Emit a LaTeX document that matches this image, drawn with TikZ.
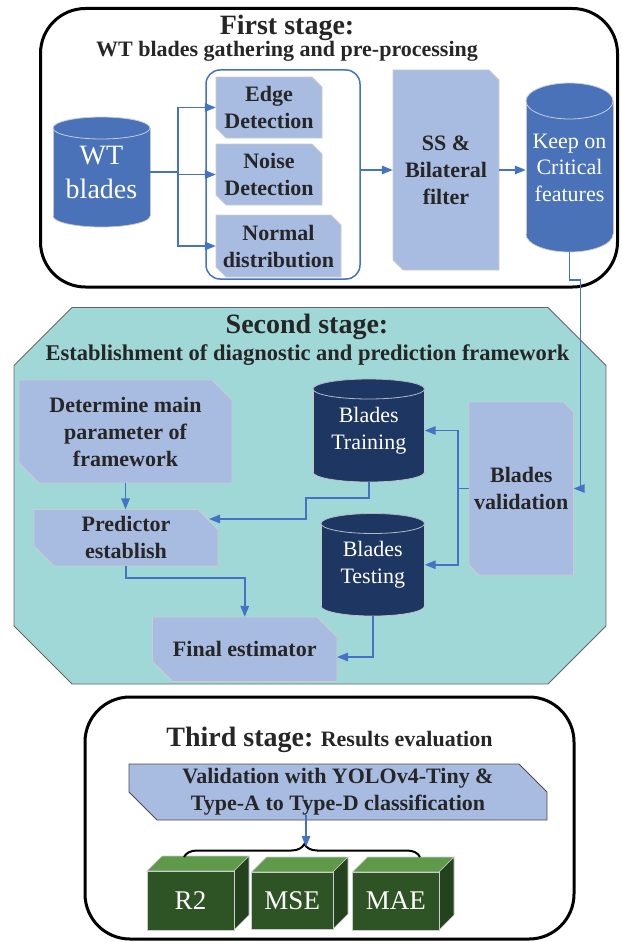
\documentclass[tikz,border=0pt]{standalone}
\usepackage{fontspec}
\setmainfont{Liberation Serif}
\usetikzlibrary{arrows.meta,decorations.pathreplacing}
\definecolor{lbox}{HTML}{A8BCE2}
\definecolor{cylblue}{HTML}{4A72B8}
\definecolor{navy}{HTML}{1E3762}
\definecolor{tealbg}{HTML}{A0D8D8}
\definecolor{arrblue}{HTML}{4472C4}
\definecolor{gfront}{HTML}{2E5426}
\definecolor{gtop}{HTML}{5E9A4A}
\definecolor{gside}{HTML}{24421D}
\definecolor{txt}{HTML}{262626}
\tikzset{
  boxst/.style={fill=lbox, draw=gray!40, line width=0.8pt},
  btext/.style={text=txt, font=\fontsize{22}{27}\selectfont\bfseries, align=center},
  wtext/.style={text=white, font=\fontsize{22}{26.5}\selectfont, align=center},
  ln/.style={draw=arrblue, line width=1.5pt},
  arr/.style={ln, -{Triangle[length=11pt,width=8.5pt]}},
  cylline/.style={draw=gray!45, line width=0.7pt},
  cubeline/.style={draw=gray!40, line width=0.6pt}
}
\newcommand\chbox[8]{%
  \filldraw[boxst] (#2,#3) -- ({#4-#6},#3) -- (#4,{#3+#6}) -- (#4,#5) -- ({#2+#6},#5) -- (#2,{#5-#6}) -- cycle;
  \node[#7, minimum width={#4-#2}, minimum height={#5-#3}, inner sep=0pt] (#1) at ({(#2+#4)/2},{(#3+#5)/2}) {#8};}
\newcommand\cylinder[9]{%
  \pgfmathsetmacro\cylcx{(#2+#4)/2}\pgfmathsetmacro\cylrx{(#4-#2)/2}
  \fill[#7, cylline] (\cylcx,{#5-#6}) ellipse [x radius=\cylrx, y radius=#6];
  \fill[#7] (#2,{#3+#6}) rectangle (#4,{#5-#6});
  \draw[cylline] (#2,{#3+#6}) -- (#2,{#5-#6}) (#4,{#3+#6}) -- (#4,{#5-#6});
  \fill[#7, draw=white!65!#7, line width=0.8pt] (\cylcx,{#3+#6}) ellipse [x radius=\cylrx, y radius=#6];
  \node[#8, minimum width={#4-#2}, minimum height={#5-#3}, inner sep=0pt] (#1) at (\cylcx,{(#3+#5)/2}) {#9};}
\newcommand\cube[7]{%
  \filldraw[fill=gtop, cubeline] (#2,#3) -- ({#2+#6},{#3-#6}) -- ({#4+#6},{#3-#6}) -- (#4,#3) -- cycle;
  \filldraw[fill=gside, cubeline] (#4,#3) -- ({#4+#6},{#3-#6}) -- ({#4+#6},{#5-#6}) -- (#4,#5) -- cycle;
  \filldraw[fill=gfront, cubeline] (#2,#3) rectangle (#4,#5);
  \node[text=white, font=\fontsize{27}{30}\selectfont, minimum width={#4-#2}, minimum height={#5-#3}, inner sep=0pt] (#1) at ({(#2+#4)/2},{(#3+#5)/2}) {#7};}
\begin{document}
\begin{tikzpicture}[x=1pt, y=-1pt]
\useasboundingbox (0,0) rectangle (621,942);
% ---------- Stage 1 ----------
\draw[line width=3pt, rounded corners=45] (40.5,8.5) rectangle (617.5,287);
\node[anchor=base, text=txt, font=\fontsize{28}{30}\selectfont\bfseries] (t1) at (287,35) {First stage:};
\node[anchor=base, text=txt, font=\fontsize{22}{24}\selectfont\bfseries] (s1) at (287,56.5) {WT blades gathering and pre-processing};
\cylinder{wt}{53}{117}{150}{227}{11}{cylblue}{wtext, font=\fontsize{28}{34}\selectfont}{WT\\blades}
\node[draw=arrblue, line width=1.5pt, rounded corners=14, minimum width=154, minimum height=209, inner sep=0pt] (grp) at (283,174.5) {};
\chbox{edge}{216}{77}{322}{138}{10}{btext}{Edge\\Detection}
\chbox{noise}{216}{144}{322}{205}{10}{btext}{Noise\\Detection}
\chbox{normal}{216}{215}{341}{277}{10}{btext}{Normal\\distribution}
\chbox{ss}{393}{70}{499}{270}{10}{btext}{SS \&\\Bilateral\\filter}
\cylinder{keep}{526}{83}{613}{252}{18}{cylblue}{wtext}{Keep on\\Critical\\features}
\draw[ln] (wt.east) -- ++(28,0) coordinate (br1);
\draw[arr] (br1) |- (edge.west);
\draw[arr] (br1) -- (br1 |- noise.west) -- (noise.west);
\draw[arr] (br1) |- (normal.west);
\draw[arr] (grp.east |- ss.west) -- (ss.west);
\draw[arr] (ss.east) -- (ss.east -| keep.west);
% ---------- Stage 2 ----------
\filldraw[fill=tealbg, draw=gray!80!black, line width=0.9pt]
  (72,307.5) -- (548,307.5) -- (606,365.5) -- (606,626) -- (548,684) -- (72,684) -- (14,626) -- (14,365.5) -- cycle;
\node[anchor=base, text=txt, font=\fontsize{28}{30}\selectfont\bfseries] (t2) at (307,333) {Second stage:};
\node[anchor=base, text=txt, font=\fontsize{22.5}{24}\selectfont\bfseries] (s2) at (307.5,360.5) {Establishment of diagnostic and prediction framework};
\chbox{det}{19}{380}{232}{483}{20}{btext}{Determine main\\parameter of\\framework}
\chbox{pred}{34}{509.5}{218}{566}{20}{btext}{Predictor\\establish}
\chbox{final}{152.5}{617}{337}{681.5}{20}{btext}{Final estimator}
\chbox{valid}{469}{402}{573.5}{575}{10}{btext}{Blades\\validation}
\cylinder{train}{313}{379}{424.5}{482}{10}{navy}{wtext}{Blades\\Training}
\cylinder{test}{321}{513.5}{424.5}{616}{10}{navy}{wtext}{Blades\\Testing}
% connectors
\coordinate (j1) at (580.5,280);
\draw[arr] (keep.south) |- (j1) |- (valid.east);
\coordinate (j2) at (458,488.5);
\draw[ln] (valid.west) -- (j2);
\draw[arr] (j2) |- (train.east);
\draw[arr] (j2) |- (test.east);
\coordinate (j3) at (306,519);
\coordinate (predin) at (209,519);
\draw[arr] (train.south) -- ++(0,16) -| (j3) -- (predin);
\draw[arr] (det.south) -- (det.south |- pred.north);
\draw[arr] (pred.south) -- ++(0,12) -| (final.north);
\coordinate (finin) at (337,657);
\draw[arr] (test.south) |- (finin);
% ---------- Stage 3 ----------
\draw[line width=3pt, rounded corners=45] (85,697) rectangle (574,939);
\node[anchor=base, text=txt, inner sep=0pt] (t3) at (329.5,746) {\fontsize{28}{30}\selectfont\bfseries Third stage:\fontsize{22}{24}\selectfont{} Results evaluation};
\filldraw[fill=lbox, draw=gray!60!black, line width=0.8pt] (129,764) -- (519,764) -- (547,792) -- (547,820) -- (157,820) -- (129,792) -- cycle;
\node[btext, minimum width=418, minimum height=56, inner sep=0pt] (val) at (338,792) {Validation with YOLOv4-Tiny \&\\Type-A to Type-D classification};
\cube{r2}{147}{871}{234}{930}{15}{R2}
\cube{mse}{251.5}{872}{333}{929}{15}{MSE}
\cube{mae}{352.5}{872}{439}{930}{15}{MAE}
\draw[line width=2pt, decorate, decoration={brace, amplitude=13pt, aspect=0.51}] (184,857) -- (420,857);
\coordinate (vs) at (306,815);
\coordinate (bt) at (306,847);
\draw[arr] (vs) -- (bt);
\end{tikzpicture}
\end{document}
